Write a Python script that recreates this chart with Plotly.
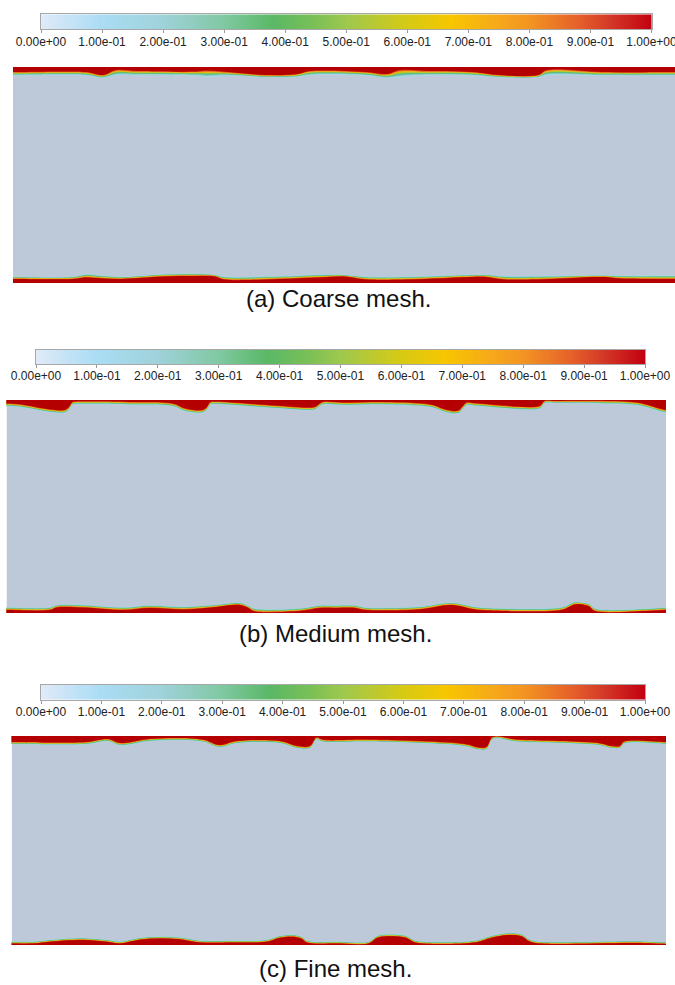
import plotly.graph_objects as go
import numpy as np

FIG_W, FIG_H = 675, 985

# ---------------- colour bar ----------------
CB_TICKS = [0.0, 0.1, 0.2, 0.3, 0.4, 0.5, 0.6, 0.7, 0.8, 0.9, 1.0]
CB_LABELS = ["0.00e+00", "1.00e-01", "2.00e-01", "3.00e-01", "4.00e-01", "5.00e-01",
             "6.00e-01", "7.00e-01", "8.00e-01", "9.00e-01", "1.00e+00"]
COLORSCALE = [
    [0.00, "#e0eaf8"], [0.10, "#aadcf4"], [0.20, "#9fd2da"], [0.30, "#80c8a2"],
    [0.38, "#5ab866"], [0.45, "#7cc055"], [0.50, "#9ec84e"], [0.60, "#d6ca14"],
    [0.67, "#f7c600"], [0.75, "#f6a81a"], [0.80, "#f39422"], [0.88, "#e5602a"],
    [0.93, "#d43a28"], [1.00, "#c20010"],
]

# ---------------- liquid film profiles (depth from wall, a.u.) ----------------
# (a) coarse mesh
A_TOP_X = [0, 73, 90, 103, 125, 181, 194, 215, 254, 284, 297, 353, 374, 387, 417, 460, 486, 525, 534, 590, 662]
A_TOP_OUT = [8, 8, 10.5, 7.5, 7.5, 8, 9, 8, 10, 9.5, 7.5, 8, 10.5, 9, 7.5, 8, 10, 10, 7.5, 8, 8]
A_TOP_IN = [5, 5, 8, 3, 4, 4.5, 3.5, 5, 8, 7, 4, 5, 7, 3, 4, 5, 8, 8, 3, 5, 5]
A_BOT_X = [0, 60, 73, 90, 108, 151, 181, 202, 211, 267, 306, 331, 353, 396, 460, 473, 491, 525, 590, 607, 662]
A_BOT_OUT = [6, 6, 8.5, 7, 6, 8.5, 9, 8, 6, 6.5, 8, 8, 6, 6, 8, 8, 6.5, 6.5, 7.5, 7, 7]
A_BOT_IN = [4, 4, 5.5, 4.5, 4, 6.5, 7, 6.5, 3.5, 4, 5.5, 6.5, 3.5, 3.5, 6, 6, 3.5, 3.5, 6, 4.5, 4]

# (b) medium mesh
B_TOP_X = [0, 15, 41, 58, 62, 66, 69, 123, 166, 179, 196, 200, 204, 209, 269, 308, 312, 316, 338, 380,
           424, 441, 452, 456, 460, 467, 527, 534, 538, 549, 600, 631, 659.5]
B_TOP_OUT = [6, 7, 11.5, 12.5, 10, 4.5, 4, 4.5, 6, 11, 12.5, 10, 4.5, 4, 8, 9.5, 7, 4.5, 5, 4.5,
             7, 12.5, 13, 9, 5, 5.5, 9.5, 8, 3, 2.8, 3.5, 5, 12.5]
B_TOP_IN = [3.5, 4.5, 9, 10, 7.5, 2, 1.5, 2, 3.5, 8.5, 10, 7.5, 2, 1.5, 5.5, 7, 4.5, 2, 2.5, 2,
            4.5, 10, 10.5, 6.5, 2.5, 3, 7, 5.5, 1, 1, 1, 2.5, 10]
B_BOT_X = [0, 43.5, 50, 77, 117, 143.5, 177, 210, 233.5, 242, 247, 293.5, 313.5, 328.5, 348.5, 358.5,
           412, 445, 468.5, 482, 555, 568.5, 582, 588.5, 640, 659.5]
B_BOT_OUT = [5.4, 5.4, 7.7, 7.7, 5.4, 7.4, 6, 8, 10, 7, 4.4, 4.4, 7.4, 7.4, 7.4, 5.4,
             6, 10, 6, 4.8, 5.5, 10.7, 9, 4.4, 4.1, 5.4]
B_BOT_IN = [3, 3, 5.5, 5.5, 3, 5, 3.5, 6, 8, 5, 2, 2, 5, 5, 5, 3,
            3.5, 8, 3.5, 2.5, 3, 8.5, 7, 2, 2, 3]

# (c) fine mesh
C_TOP_X = [0, 74.4, 96, 108.8, 139, 190.6, 207.8, 225, 268, 285.3, 298.2, 304.7, 311, 358.5, 453.2,
           466, 474.7, 481.2, 504.9, 548, 586.7, 599.6, 608.2, 612.5, 654.3]
C_TOP_OUT = [8, 8, 5, 9, 4.7, 5.5, 11, 7, 7, 12, 12, 3.4, 5.6, 5.6, 10,
             13.3, 13, 2.6, 5.5, 7, 9, 12, 12, 7.5, 8]
C_TOP_IN = [6, 6, 3, 7, 2.7, 3.5, 9, 5, 5, 10, 10, 1.4, 3.6, 3.6, 8,
            11.3, 11, 1, 3.5, 5, 7, 10, 10, 5.5, 6]
C_BOT_X = [0, 21.6, 38.3, 71.6, 95, 108, 128, 148, 168, 188, 221.6, 255, 268.3, 281.6, 290, 295,
           328.3, 356.6, 366.6, 393.3, 398.3, 403.3, 463.3, 480, 496.6, 510, 516.6, 523.3, 623.3, 654.3]
C_BOT_OUT = [3.3, 3.3, 5, 6.7, 5, 3.3, 7, 8.3, 7.5, 4.3, 4.3, 5, 9, 10, 8, 4.3,
             3.3, 3.3, 9.3, 9.3, 7, 4.3, 4.3, 9, 11.7, 10.5, 6, 3.7, 3.7, 2.7]
C_BOT_IN = [1.5, 1.5, 3.2, 4.9, 3.2, 1.5, 5.2, 6.5, 5.7, 2.5, 2.5, 3.2, 7.2, 8.2, 6.2, 2.5,
            1.5, 1.5, 7.5, 7.5, 5.2, 2.5, 2.5, 7.2, 9.9, 8.7, 4.2, 1.9, 1.9, 1]

CAPTIONS = ["(a) Coarse mesh.", "(b) Medium mesh.", "(c) Fine mesh."]

# ---------------- layout geometry (pixels) ----------------
PANELS = [
    dict(cb=(41, 651.5, 14.3, 29.3), field=(13, 675, 67, 283), W=662, H=216, cap=(338, 298),
         films=[(A_TOP_X, A_TOP_OUT, A_TOP_IN, True), (A_BOT_X, A_BOT_OUT, A_BOT_IN, False)]),
    dict(cb=(36, 645, 350, 364), field=(6.5, 666, 400, 613), W=659.5, H=213, cap=(335, 633),
         films=[(B_TOP_X, B_TOP_OUT, B_TOP_IN, True), (B_BOT_X, B_BOT_OUT, B_BOT_IN, False)]),
    dict(cb=(41, 645, 685, 699.5), field=(11.7, 666, 736, 945), W=654.3, H=209, cap=(335, 968),
         films=[(C_TOP_X, C_TOP_OUT, C_TOP_IN, True), (C_BOT_X, C_BOT_OUT, C_BOT_IN, False)]),
]

FIELD_COLOR = "#bdc9d9"
LAYERS = [(1.25, "#a9d6e0"), (1.0, "#84cdd0"), (0.86, "#6cc3a0"), (0.72, "#5cba6c"),
          (0.58, "#a2c74a"), (0.45, "#e4c30c"), (0.32, "#f39a1e"), (0.17, "#dc4a22"),
          (0.0, "#b40000")]
FONT = "Liberation Sans, Arial, Helvetica, sans-serif"


def xdom(x0, x1):
    return [x0 / FIG_W, x1 / FIG_W]


def ydom(y0, y1):
    return [1 - y1 / FIG_H, 1 - y0 / FIG_H]


fig = go.Figure()
layout = {}
shapes = []
annotations = []
cb_vals = np.linspace(0, 1, 301)

for i, p in enumerate(PANELS):
    n_cb = 2 * i + 1
    n_f = 2 * i + 2
    xa_cb = "x" if n_cb == 1 else f"x{n_cb}"
    ya_cb = "y" if n_cb == 1 else f"y{n_cb}"
    xa_f, ya_f = f"x{n_f}", f"y{n_f}"
    key = lambda a, n: a + ("" if n == 1 else str(n))

    # colour bar
    fig.add_trace(go.Heatmap(z=[cb_vals], x=cb_vals, y=[0], colorscale=COLORSCALE, zmin=0, zmax=1,
                             showscale=False, hoverinfo="skip", xaxis=xa_cb, yaxis=ya_cb))
    cx0, cx1, cy0, cy1 = p["cb"]
    layout[key("xaxis", n_cb)] = dict(domain=xdom(cx0, cx1), anchor=ya_cb, range=[0, 1],
                                      tickvals=CB_TICKS, ticktext=CB_LABELS, ticks="outside",
                                      ticklen=3, tickwidth=1, tickcolor="#999999",
                                      ticklabelstandoff=-2, ticklabeloverflow="allow",
                                      tickfont=dict(family=FONT, size=12, color="#222222"),
                                      showline=True, linecolor="#a8a8a8", mirror=True,
                                      showgrid=False, zeroline=False, fixedrange=True,
                                      automargin=False)
    layout[key("yaxis", n_cb)] = dict(domain=ydom(cy0, cy1), anchor=xa_cb, range=[-0.5, 0.5],
                                      showticklabels=False, ticks="", showline=True,
                                      linecolor="#a8a8a8", mirror=True, showgrid=False,
                                      zeroline=False, fixedrange=True, automargin=False)

    # contour field
    fx0, fx1, fy0, fy1 = p["field"]
    W, H = p["W"], p["H"]
    layout[f"xaxis{n_f}"] = dict(domain=xdom(fx0, fx1), anchor=ya_f, range=[0, W], visible=False,
                                 fixedrange=True, automargin=False)
    layout[f"yaxis{n_f}"] = dict(domain=ydom(fy0, fy1), anchor=xa_f, range=[0, H], visible=False,
                                 fixedrange=True, automargin=False)
    shapes.append(dict(type="rect", xref=xa_f, yref=ya_f, x0=0, x1=W, y0=0, y1=H,
                       fillcolor=FIELD_COLOR, line=dict(width=0), layer="below"))

    for fx, fout, fin, top in p["films"]:
        for f, col in LAYERS:
            d = [b + (a - b) * f for a, b in zip(fout, fin)]
            ys = [H - v for v in d] if top else list(d)
            wall = H + 40 if top else -40
            xs = [-12, -6] + list(fx) + [W + 6, W + 12, W + 12, -12]
            yy = [ys[0], ys[0]] + ys + [ys[-1], ys[-1], wall, wall]
            fig.add_trace(go.Scatter(x=xs, y=yy, mode="lines", fill="toself", fillcolor=col,
                                     line=dict(width=0, shape="spline", smoothing=1.0, color=col),
                                     hoverinfo="skip", showlegend=False, xaxis=xa_f, yaxis=ya_f))

    annotations.append(dict(text=CAPTIONS[i], xref="paper", yref="paper",
                            x=p["cap"][0] / FIG_W, y=1 - p["cap"][1] / FIG_H,
                            xanchor="center", yanchor="middle", showarrow=False,
                            font=dict(family=FONT, size=24, color="#111111")))

fig.update_layout(width=FIG_W, height=FIG_H, margin=dict(l=0, r=0, t=0, b=0, autoexpand=False),
                  paper_bgcolor="white", plot_bgcolor="rgba(0,0,0,0)", template="none",
                  showlegend=False, shapes=shapes, annotations=annotations, **layout)

fig.write_html("out.html", config={"displayModeBar": False})
